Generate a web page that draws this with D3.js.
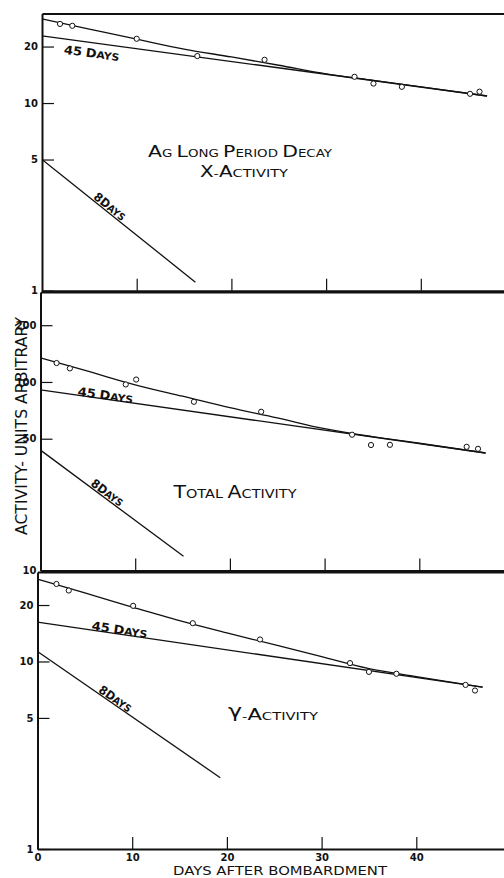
<!DOCTYPE html>
<html>
<head>
<meta charset="utf-8">
<script src="https://cdn.jsdelivr.net/npm/d3@7"></script>
<style>
  body { margin: 0; background: #fff; }
  svg { display: block; }
  text { font-family: "DejaVu Sans", sans-serif; fill: #111; }
  .axis .domain { stroke: #111; stroke-width: 2; }
  .axis .tick line { stroke: #111; stroke-width: 1.2; }
  .axis .tick text { font-size: 10px; font-weight: bold; fill: #111; }
  .fit { fill: none; stroke: #111; stroke-width: 1.3; }
  .pt { fill: #fff; stroke: #111; stroke-width: 1; }
</style>
</head>
<body>
<div id="chart"></div>
<script>
// Days after bombardment
var dayTicks = [0, 10, 20, 30, 40, 50];
var innerDayTicks = [10, 20, 30, 40];
var curveDays = [0, 5, 10, 15, 20, 25, 30, 35, 40, 47];
var longDays = [0, 47];
var yTicksLow = [1, 5, 10, 20];
var yTicksHigh = [10, 50, 100, 200];

// X-activity
var xRayDays = [1.9, 3.2, 10.0, 16.4, 23.5, 33.0, 35.0, 38.0, 45.2, 46.2];
var xRayValues = [26.4, 25.8, 22.0, 17.8, 17.0, 13.8, 12.7, 12.2, 11.2, 11.5];
var xRayCurve = [28.1, 24.8, 21.9, 19.4, 17.6, 15.9, 14.3, 13.2, 12.2, 10.9];
var xRayLong = [22.8, 10.9];
var xRayShortDays = [0, 16.2];
var xRayShort = [5.0, 1.11];

// Total activity
var totalDays = [1.7, 3.1, 9.0, 10.1, 16.2, 23.3, 32.9, 34.9, 36.9, 45.0, 46.2];
var totalValues = [126, 118, 97, 103, 78.5, 69.5, 52.5, 46.3, 46.4, 45.3, 44.2];
var totalCurve = [134, 114, 96.5, 84, 73, 64.5, 56.5, 51.3, 47.3, 42];
var totalLong = [90.7, 42];
var totalShortDays = [0, 15.1];
var totalShort = [43.5, 11.9];

// Gamma activity
var gammaDays = [2.0, 3.3, 10.1, 16.4, 23.5, 33.0, 35.0, 37.9, 45.2, 46.2];
var gammaValues = [25.9, 23.9, 19.8, 16.0, 13.1, 9.8, 8.8, 8.6, 7.5, 7.0];
var gammaCurve = [27.5, 23.2, 19.5, 16.5, 14.2, 12.3, 10.6, 9.15, 8.3, 7.3];
var gammaLong = [16.2, 7.3];
var gammaShortDays = [0, 19.3];
var gammaShort = [11.3, 2.4];

var width = 504, height = 878;

// panel layout (the scan is slightly skewed, so each panel has its own x origin)
var panels = [
  { x0: 42, top: 13.5, bottom: 290.7, domain: [1, 30], yTicks: yTicksLow, xTicks: innerDayTicks, labels: false,
    days: xRayDays, values: xRayValues, curve: xRayCurve, long: xRayLong,
    shortDays: xRayShortDays, short: xRayShort,
    longLabel: { day: 5.4, off: 9 }, shortLabel: { day: 6.8, off: -7.2 },
    titles: [
      { text: 'Ag Long Period Decay', x: 240, y: 157, len: 184, big: 16, small: 10.5 },
      { text: 'X-Activity', x: 244, y: 177, len: 88, big: 15, small: 11 }
    ] },
  { x0: 40.5, top: 292, bottom: 570.5, domain: [10, 300], yTicks: yTicksHigh, xTicks: innerDayTicks, labels: false,
    days: totalDays, values: totalValues, curve: totalCurve, long: totalLong,
    shortDays: totalShortDays, short: totalShort,
    longLabel: { day: 6.8, off: -5.5 }, shortLabel: { day: 6.7, off: -7.2 },
    titles: [
      { text: 'Total Activity', x: 235, y: 498, len: 123, big: 17, small: 12 }
    ] },
  { x0: 37.5, top: 572, bottom: 849, domain: [1, 30], yTicks: yTicksLow, xTicks: dayTicks, labels: true,
    days: gammaDays, values: gammaValues, curve: gammaCurve, long: gammaLong,
    shortDays: gammaShortDays, short: gammaShort,
    longLabel: { day: 8.6, off: -6 }, shortLabel: { day: 7.9, off: -6.9 },
    titles: [
      { text: 'γ-Activity', x: 273, y: 720, len: 90, big: 15, small: 10.5 }
    ] }
];

var svg = d3.select('#chart').append('svg')
    .attr('width', width)
    .attr('height', height);

// Write a string in draftsman small caps: capitals big, the rest small
function smallCaps(textSel, str, big, small) {
  var runs = [];
  var back = 0;
  str.split('').forEach(function(c) {
    if (c === 'γ') {
      // hand-lettered gamma sits on the baseline at capital height
      runs.push({ text: c, size: big + 2, dy: -3 });
      back = 3;
      return;
    }
    var isBig = c !== c.toLowerCase() || /[0-9]/.test(c);
    var size = isBig ? big : small;
    var last = runs[runs.length - 1];
    if (last && last.size === size && !back) last.text += c.toUpperCase();
    else runs.push({ text: c.toUpperCase(), size: size, dy: back });
    back = 0;
  });
  textSel.selectAll('tspan').data(runs).enter().append('tspan')
      .attr('font-size', function(d) { return d.size; })
      .attr('dy', function(d) { return d.dy || null; })
      .text(function(d) { return d.text; });
}

panels.forEach(function(p) {
  var xScale = d3.scaleLinear().domain([0, 50]).range([p.x0, p.x0 + 473.5]);
  var yScale = d3.scaleLog().domain(p.domain).range([p.bottom, p.top]);
  var g = svg.append('g');

  // Axes
  g.append('g')
      .attr('class', 'axis')
      .attr('transform', 'translate(' + p.x0 + ',0)')
      .call(d3.axisLeft(yScale).tickValues(p.yTicks).tickSize(-12).tickSizeOuter(0)
        .tickPadding(4).tickFormat(d3.format('d')));

  g.append('g')
      .attr('class', 'axis')
      .attr('transform', 'translate(0,' + p.bottom + ')')
      .call(d3.axisBottom(xScale).tickValues(p.xTicks).tickSize(-12).tickSizeOuter(0)
        .tickPadding(5).tickFormat(p.labels ? d3.format('d') : ''));

  g.append('g')
      .attr('class', 'axis')
      .attr('transform', 'translate(0,' + p.top + ')')
      .call(d3.axisTop(xScale).tickValues([]).tickSizeOuter(0));

  var line = d3.line()
      .x(function(d) { return xScale(d[0]); })
      .y(function(d) { return yScale(d[1]); });

  // Fitted curve, 45 day and 8 day components
  g.append('path').attr('class', 'fit')
      .attr('d', line.curve(d3.curveMonotoneX)(d3.zip(curveDays, p.curve)));
  line.curve(d3.curveLinear);
  var longPts = d3.zip(longDays, p.long);
  var shortPts = d3.zip(p.shortDays, p.short);
  g.append('path').attr('class', 'fit').attr('d', line(longPts));
  g.append('path').attr('class', 'fit').attr('d', line(shortPts));

  // Measured points
  g.selectAll('circle').data(d3.zip(p.days, p.values)).enter().append('circle')
      .attr('class', 'pt')
      .attr('r', 2.6)
      .attr('cx', function(d) { return xScale(d[0]); })
      .attr('cy', function(d) { return yScale(d[1]); });

  // Line labels, set along the line
  function lineLabel(pts, lab, str, len) {
    var a = [xScale(pts[0][0]), yScale(pts[0][1])];
    var b = [xScale(pts[1][0]), yScale(pts[1][1])];
    var px = xScale(lab.day);
    var py = a[1] + (b[1] - a[1]) * (px - a[0]) / (b[0] - a[0]);
    var angle = Math.atan2(b[1] - a[1], b[0] - a[0]) * 180 / Math.PI;
    var t = g.append('text')
        .attr('transform', 'translate(' + px + ',' + py + ') rotate(' + angle + ')')
        .attr('y', lab.off)
        .attr('dy', '0.36em')
        .attr('text-anchor', 'middle')
        .attr('textLength', len)
        .attr('lengthAdjust', 'spacingAndGlyphs')
        .style('font-weight', 'bold');
    smallCaps(t, str, 12, 10);
  }
  lineLabel(longPts, p.longLabel, '45 Days', 56);
  lineLabel(shortPts, p.shortLabel, '8Days', 37);

  // Panel titles
  p.titles.forEach(function(tl) {
    var t = g.append('text')
        .attr('x', tl.x)
        .attr('y', tl.y)
        .attr('text-anchor', 'middle')
        .attr('textLength', tl.len)
        .attr('lengthAdjust', 'spacingAndGlyphs');
    smallCaps(t, tl.text, tl.big, tl.small);
  });
});

// Axis titles
svg.append('text')
    .attr('transform', 'translate(27,426) rotate(-90)')
    .attr('text-anchor', 'middle')
    .attr('textLength', 218)
    .attr('lengthAdjust', 'spacingAndGlyphs')
    .style('font-size', '16px')
    .text('ACTIVITY- UNITS ARBITRARY');

svg.append('text')
    .attr('x', 280)
    .attr('y', 875)
    .attr('text-anchor', 'middle')
    .attr('textLength', 214)
    .attr('lengthAdjust', 'spacingAndGlyphs')
    .style('font-size', '11.5px')
    .text('DAYS AFTER BOMBARDMENT');
</script>
</body>
</html>
